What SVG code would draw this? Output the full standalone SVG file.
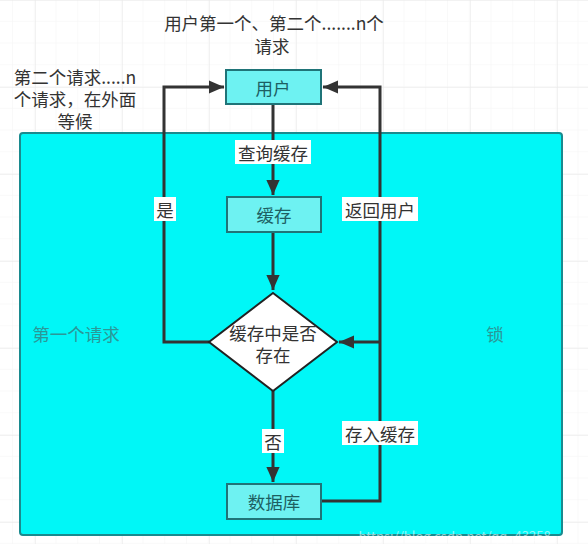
<svg xmlns="http://www.w3.org/2000/svg" width="588" height="544" viewBox="0 0 588 544">
<defs>
<pattern id="minor" x="13" y="0" width="21.75" height="21.75" patternUnits="userSpaceOnUse">
<path d="M21.75 0V21.75M0 21.75H21.75" fill="none" stroke="#f3f3f3" stroke-width="1"/>
</pattern>
<pattern id="major" x="35" y="0" width="87" height="87" patternUnits="userSpaceOnUse">
<path d="M0 0V87M0 0H87" fill="none" stroke="#e6e6e6" stroke-width="1"/>
</pattern>
<marker id="arr" viewBox="0 0 10 10" refX="10" refY="5" markerWidth="5" markerHeight="4.4" orient="auto" markerUnits="strokeWidth" preserveAspectRatio="none">
<path d="M0 0L10 5L0 10Z" fill="#333"/>
</marker>
<style>
text{font-family:"Noto Sans CJK SC","Liberation Sans",sans-serif;font-size:17.5px;fill:#333;text-anchor:middle;dominant-baseline:central}
.box{fill:#6ef2f2;stroke:#1f7478;stroke-width:2}
.box-t{fill:#1d5f62}
.con{fill:none;stroke:#333;stroke-width:3}
.lbl{fill:#fff}
.teal{fill:#2a9898}
</style>
</defs>
<rect width="588" height="544" fill="#fff"/>
<rect width="588" height="544" fill="url(#minor)"/>
<rect width="588" height="544" fill="url(#major)"/>

<g id="lock-area">
<rect x="20" y="133" width="542" height="402" rx="3" fill="#00f7f7" stroke="#1a8a8e" stroke-width="2"/>
<text x="76" y="333" class="teal">第一个请求</text>
<text x="495" y="333" class="teal">锁</text>
</g>

<g id="notes">
<text x="274" y="22">用户第一个、第二个.......n个</text>
<text x="272" y="45">请求</text>
<text x="75" y="76">第二个请求.....n</text>
<text x="75" y="98">个请求，在外面</text>
<text x="75" y="120">等候</text>
</g>

<g id="connectors">
<path class="con" d="M273 105V195" marker-end="url(#arr)"/>
<path class="con" d="M273 232V290" marker-end="url(#arr)"/>
<path class="con" d="M209 342H164V87H224" marker-end="url(#arr)"/>
<path class="con" d="M380 342V87H323" marker-end="url(#arr)"/>
<path class="con" d="M380 342H339" marker-end="url(#arr)"/>
<path class="con" d="M273 390V482" marker-end="url(#arr)"/>
<path class="con" d="M321 501H380V342"/>
<rect class="lbl" x="235" y="140" width="76" height="24"/>
<text x="273" y="152">查询缓存</text>
<rect class="lbl" x="154" y="197" width="22" height="24"/>
<text x="165" y="209">是</text>
<rect class="lbl" x="342" y="197" width="76" height="24"/>
<text x="380" y="209">返回用户</text>
<rect class="lbl" x="262" y="429" width="22" height="24"/>
<text x="273" y="441">否</text>
<rect class="lbl" x="342" y="421" width="76" height="24"/>
<text x="380" y="433">存入缓存</text>
</g>

<g id="user">
<rect class="box" x="226" y="70" width="95" height="34"/>
<text class="box-t" x="273" y="87">用户</text>
</g>
<g id="cache">
<rect class="box" x="227" y="197" width="94" height="35"/>
<text class="box-t" x="274" y="214">缓存</text>
</g>
<g id="decision">
<path d="M273 293L337 342L273 391L209 342Z" fill="#fff" stroke="#222" stroke-width="2"/>
<text x="273" y="332">缓存中是否</text>
<text x="273" y="354">存在</text>
</g>
<g id="database">
<rect class="box" x="227" y="484" width="94" height="35"/>
<text class="box-t" x="274" y="501">数据库</text>
</g>
<text x="460" y="535" style="font-size:13px;fill:#ffffff;opacity:0.55">https://blog.csdn.net/qq_43258...</text>
</svg>
